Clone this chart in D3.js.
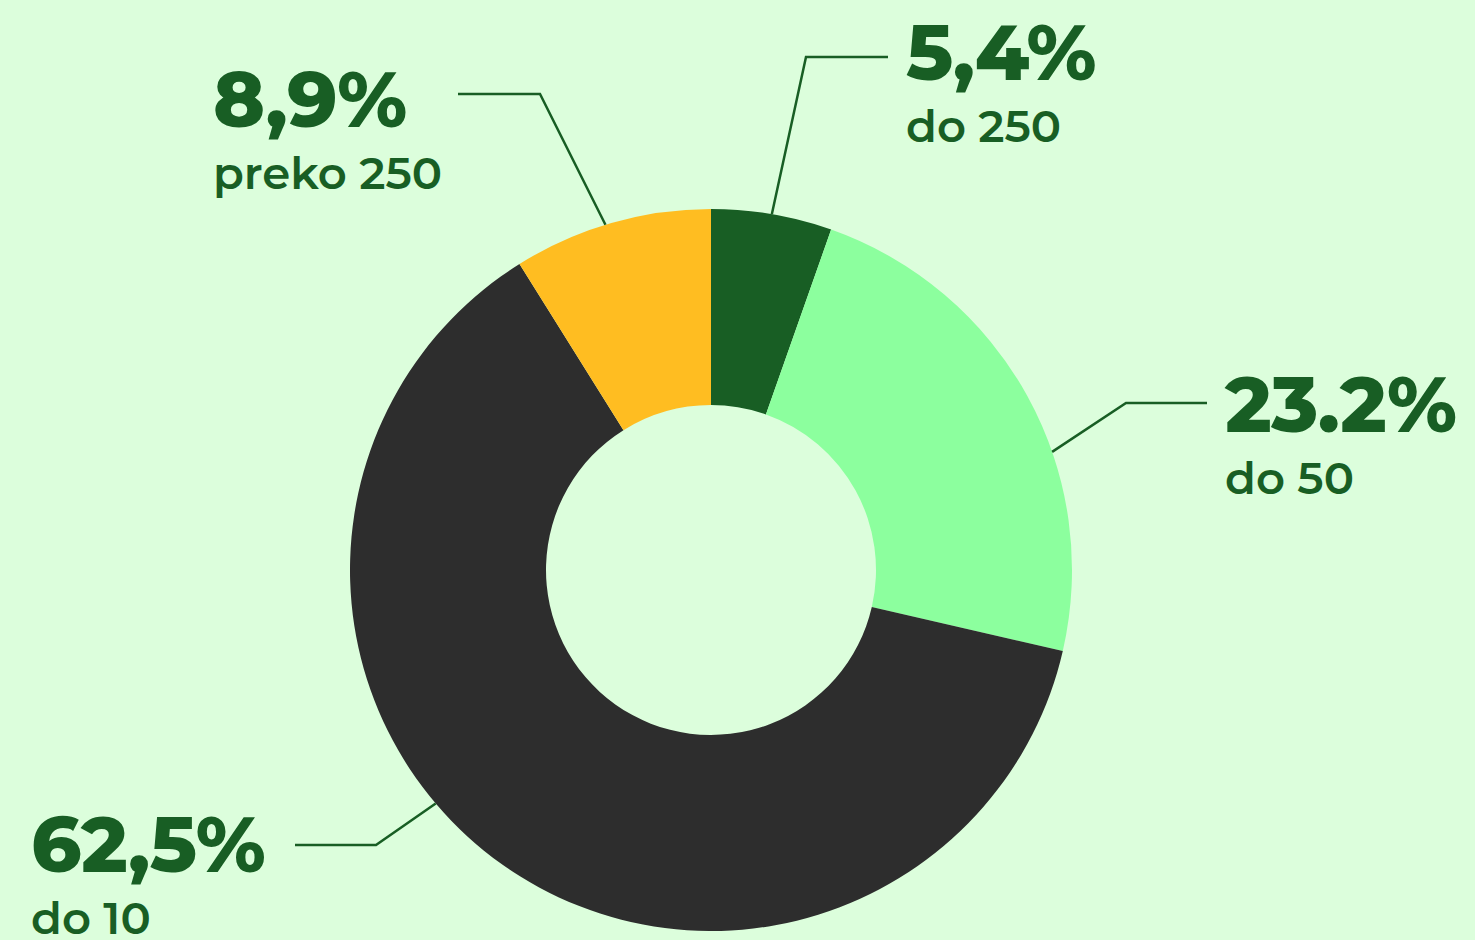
<!DOCTYPE html>
<html>
<head>
<meta charset="utf-8">
<script src="https://cdn.jsdelivr.net/npm/d3@7"></script>
<style>
  html, body { margin: 0; padding: 0; background: #dcfedc; }
  svg { display: block; }
</style>
</head>
<body>
<svg class="canvas"></svg>
<script>
// Data
const categories = ["do 250", "do 50", "do 10", "preko 250"];
const values = [5.4, 23.2, 62.5, 8.9];
const valueLabels = ["5,4%", "23.2%", "62,5%", "8,9%"];
const colors = ["#185e24", "#8cff9e", "#2d2d2d", "#ffbd21"];

// Setting constants
const wWidth = 1475;
const wHeight = 940;
const cx = 711, cy = 570;
const outerR = 361, innerR = 165;
const textColor = "#185e24";

// label layout: anchor angle on rim (deg), elbow, end of line, text pos
const layout = [
  {angle: 9.7,   elbow: [806, 57],   end: [888, 57],   tx: 906,  ty: 80},
  {angle: 70.9,  elbow: [1126, 403], end: [1207, 403], tx: 1225, ty: 432},
  {angle: 229.7, elbow: [376, 845],  end: [295, 845],  tx: 31,   ty: 872},
  {angle: 343,   elbow: [540, 94],   end: [458, 94],   tx: 213,  ty: 127}
];

const svg = d3.select(".canvas")
  .attr("width", wWidth)
  .attr("height", wHeight);

svg.append("rect")
  .attr("width", wWidth)
  .attr("height", wHeight)
  .attr("fill", "#dcfedc");

const pie = d3.pie().sort(null).value(d => d)(values);
const arc = d3.arc().innerRadius(innerR).outerRadius(outerR);

const graph = svg.append("g")
  .attr("transform", `translate(${cx}, ${cy})`);

graph.selectAll("path")
  .data(pie)
  .enter()
  .append("path")
  .attr("d", arc)
  .attr("fill", (d, i) => colors[i]);

// leader lines
const rad = Math.PI / 180;
svg.selectAll("polyline.leader")
  .data(layout)
  .enter()
  .append("polyline")
  .attr("class", "leader")
  .attr("points", d => {
    const sx = cx + outerR * Math.sin(d.angle * rad);
    const sy = cy - outerR * Math.cos(d.angle * rad);
    return [[sx, sy], d.elbow, d.end].map(p => p.join(",")).join(" ");
  })
  .attr("fill", "none")
  .attr("stroke", textColor)
  .attr("stroke-width", 2.5);

// labels
const font = "Montserrat, 'DejaVu Sans', sans-serif";
const labels = svg.selectAll("g.label")
  .data(layout)
  .enter()
  .append("g")
  .attr("class", "label");

labels.append("text")
  .attr("x", d => d.tx)
  .attr("y", d => d.ty)
  .attr("font-family", font)
  .attr("font-weight", 800)
  .attr("font-size", 78)
  .attr("letter-spacing", -0.5)
  .attr("fill", textColor)
  .text((d, i) => valueLabels[i]);

labels.append("text")
  .attr("x", d => d.tx)
  .attr("y", d => d.ty + 62)
  .attr("font-family", font)
  .attr("font-weight", 600)
  .attr("font-size", 45)
  .attr("fill", textColor)
  .text((d, i) => categories[i]);
</script>
</body>
</html>
